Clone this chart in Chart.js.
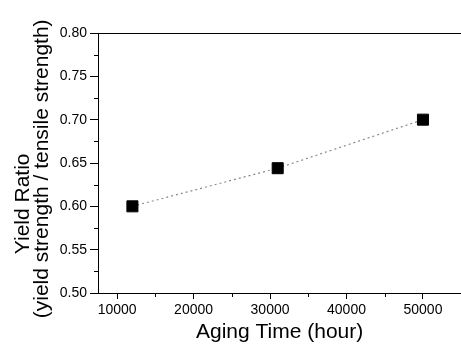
<!DOCTYPE html>
<html>
<head>
<meta charset="utf-8">
<script src="https://cdn.jsdelivr.net/npm/chart.js@4/dist/chart.umd.min.js"></script>
<style>
  html, body { margin: 0; padding: 0; background: #fff; overflow: hidden; }
  #wrap { width: 470px; height: 351px; }
</style>
</head>
<body>
<div id="wrap"><canvas id="yield-chart"></canvas></div>
<script>
// data
const agingTime = [12000, 31000, 50000];
const yieldRatio = [0.600, 0.644, 0.700];

// tick labels
const xTicks = [10000, 20000, 30000, 40000, 50000];
const xMinorTicks = [15000, 25000, 35000, 45000];
const yTicks = [0.50, 0.55, 0.60, 0.65, 0.70, 0.75, 0.80];
const yMinorTicks = [0.525, 0.575, 0.625, 0.675, 0.725, 0.775];

const FONT = "'Liberation Sans', Arial, Helvetica, sans-serif";

// short minor ticks, placed through the scales
const minorTicks = {
  id: "minorTicks",
  afterDraw(chart) {
    const ctx = chart.ctx;
    const xs = chart.scales.x, ys = chart.scales.y;
    ctx.save();
    ctx.strokeStyle = "#000";
    ctx.lineWidth = 1;
    ctx.beginPath();
    xMinorTicks.forEach(function (v) {
      const px = Math.round(xs.getPixelForValue(v)) + 0.5;
      ctx.moveTo(px, xs.top);
      ctx.lineTo(px, xs.top + 4);
    });
    yMinorTicks.forEach(function (v) {
      const py = Math.round(ys.getPixelForValue(v)) + 0.5;
      ctx.moveTo(ys.right, py);
      ctx.lineTo(ys.right - 4, py);
    });
    ctx.stroke();
    ctx.restore();
  }
};

new Chart(document.getElementById("yield-chart"), {
  type: "scatter",
  data: {
    datasets: [{
      data: agingTime.map(function (t, i) { return { x: t, y: yieldRatio[i] }; }),
      showLine: true,
      borderColor: "#8a8a8a",
      borderWidth: 1.2,
      borderDash: [2, 3],
      pointStyle: "rect",
      pointRadius: 7.8,
      pointHoverRadius: 7.8,
      pointBackgroundColor: "#000",
      pointBorderColor: "#000",
      pointBorderWidth: 1
    }]
  },
  options: {
    responsive: true,
    maintainAspectRatio: false,
    animation: false,
    events: [],
    layout: { padding: { left: 0, right: 7, top: 33, bottom: 0 } },
    plugins: { legend: { display: false }, tooltip: { enabled: false } },
    scales: {
      x: {
        type: "linear",
        min: 7500,
        max: 55000,
        afterBuildTicks: function (scale) {
          scale.ticks = xTicks.map(function (v) { return { value: v }; });
        },
        afterFit: function (scale) { scale.height = 58; },
        border: { display: true, color: "#000", width: 1 },
        grid: { drawOnChartArea: false, color: "#000", tickColor: "#000", tickLength: 6 },
        ticks: {
          color: "#000",
          padding: 3,
          maxRotation: 0,
          font: { family: FONT, size: 14 },
          callback: function (v) { return String(v); }
        },
        title: {
          display: true,
          text: "Aging Time (hour)",
          color: "#000",
          font: { family: FONT, size: 21 },
          padding: { top: 0, bottom: 6 }
        }
      },
      y: {
        type: "linear",
        min: 0.50,
        max: 0.80,
        afterBuildTicks: function (scale) {
          scale.ticks = yTicks.map(function (v) { return { value: v }; });
        },
        afterFit: function (scale) { scale.width = 98; },
        border: { display: true, color: "#000", width: 1 },
        grid: {
          drawOnChartArea: true,
          // only the top line (the frame) is drawn across the plot
          color: function (c) { return c.tick && c.tick.value === 0.80 ? "#000" : "rgba(0,0,0,0)"; },
          tickColor: "#000",
          tickLength: 8
        },
        ticks: {
          color: "#000",
          padding: 3,
          font: { family: FONT, size: 14 },
          callback: function (v) { return v.toFixed(2); }
        },
        title: {
          display: true,
          text: ["Yield Ratio" + " ".repeat(14), "(yield strength / tensile strength)" + " ".repeat(2)],
          color: "#000",
          font: { family: FONT, size: 21, lineHeight: 0.93 },
          padding: { top: 13, bottom: 0 }
        }
      }
    }
  },
  plugins: [minorTicks]
});
</script>
</body>
</html>
